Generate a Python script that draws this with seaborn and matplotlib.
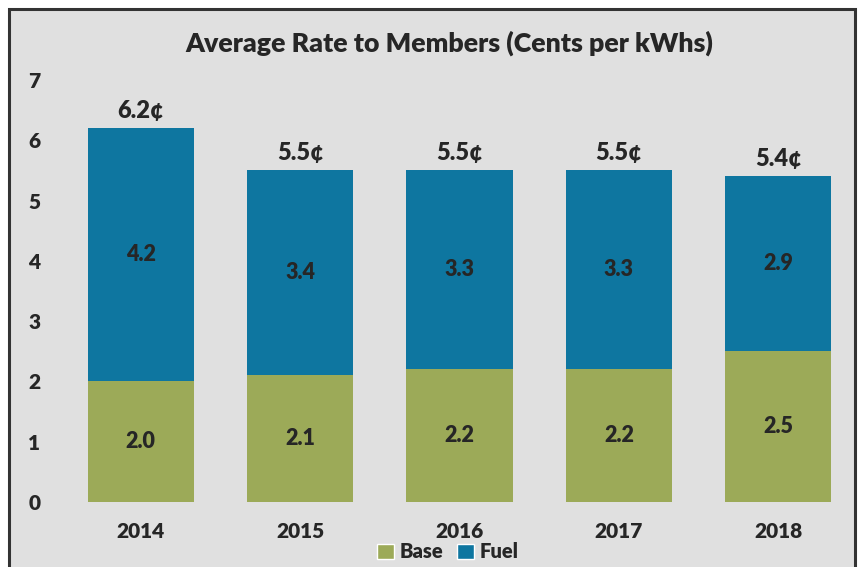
import matplotlib
matplotlib.use("Agg")
import matplotlib.pyplot as plt
import seaborn as sns
import pandas as pd
import numpy as np
from matplotlib.patches import Rectangle

years = ["2014", "2015", "2016", "2017", "2018"]
base = [2.0, 2.1, 2.2, 2.2, 2.5]
fuel = [4.2, 3.4, 3.3, 3.3, 2.9]
totals = [6.2, 5.5, 5.5, 5.5, 5.4]
title = "Average Rate to Members (Cents per kWhs)"

BASE_C = "#9caa58"
FUEL_C = "#0e76a0"
BG = "#e0e0e0"
TXT = "#262626"
W = "heavy"

sns.set_theme(style="white")
plt.rcParams["font.family"] = ["Lato", "DejaVu Sans"]
plt.rcParams["font.weight"] = W

fig = plt.figure(figsize=(8.63, 5.67), dpi=100)
fig.patch.set_facecolor("white")
bg = Rectangle((9 / 863, -0.05), (855 - 9) / 863, 1.05 - 9 / 567,
               transform=fig.transFigure, facecolor=BG,
               edgecolor="#333333", linewidth=2.2, zorder=-10)
fig.patches.append(bg)

ax = fig.add_axes([61 / 863, 1 - 502 / 567, (858 - 61) / 863, (502 - 80) / 567])
ax.set_zorder(5)
ax.set_facecolor("none")
ax.patch.set_alpha(0)

df = pd.DataFrame({"year": years, "base": base, "fuel": fuel})
df["stack"] = df["base"] + df["fuel"]

sns.barplot(data=df, x="year", y="stack", color=FUEL_C, saturation=1,
            width=0.665, ax=ax, label="Fuel", edgecolor="none")
sns.barplot(data=df, x="year", y="base", color=BASE_C, saturation=1,
            width=0.665, ax=ax, label="Base", edgecolor="none")

for i in range(len(years)):
    ax.text(i, base[i] / 2, f"{base[i]:.1f}", ha="center", va="center",
            fontsize=15.5, fontweight=W, color=TXT)
    ax.text(i, base[i] + fuel[i] / 2, f"{fuel[i]:.1f}", ha="center", va="center",
            fontsize=15.5, fontweight=W, color=TXT)
    ax.annotate(f"{totals[i]:.1f}¢", (i, base[i] + fuel[i]), xytext=(0, 4.5),
                textcoords="offset points", ha="center", va="bottom",
                fontsize=17, fontweight=W, color=TXT)

ax.set_xlim(-0.5, 4.5)
ax.set_ylim(0, 7)
ax.set_yticks(range(0, 8))
ax.set_xlabel("")
ax.set_ylabel("")
for s in ax.spines.values():
    s.set_visible(False)
ax.tick_params(axis="both", length=0, labelsize=15, colors=TXT)
ax.tick_params(axis="x", pad=14.5)
ax.tick_params(axis="y", pad=15)
for lab in ax.get_xticklabels() + ax.get_yticklabels():
    lab.set_fontweight(W)
ax.grid(False)
if ax.get_legend() is not None:
    ax.get_legend().remove()

fig.text(449 / 863, 1 - 43 / 567, title, ha="center", va="center",
         fontsize=19.3, fontweight=W, color=TXT)

handles = [Rectangle((0, 0), 1, 1, facecolor=BASE_C), Rectangle((0, 0), 1, 1, facecolor=FUEL_C)]
leg = fig.legend(handles, ["Base", "Fuel"], loc="center",
                 bbox_to_anchor=(448 / 863, 1 - 552 / 567), ncol=2, frameon=False,
                 handlelength=0.8, handleheight=0.8, columnspacing=0.7,
                 handletextpad=0.3, borderaxespad=0, borderpad=0,
                 prop={"size": 14.5, "weight": W})
for t in leg.get_texts():
    t.set_color(TXT)

fig.savefig("out.png", dpi=100)
